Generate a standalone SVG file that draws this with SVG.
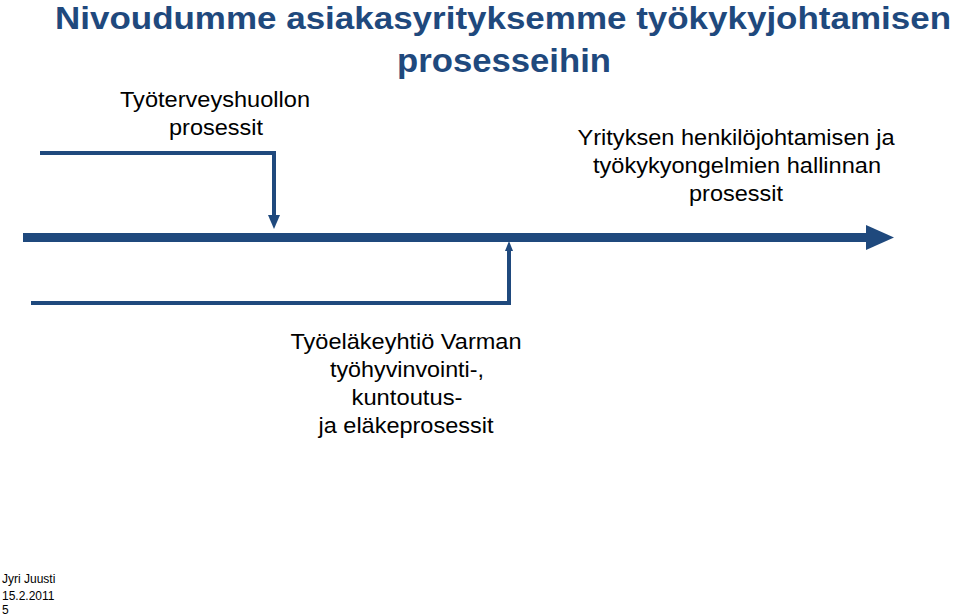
<svg xmlns="http://www.w3.org/2000/svg" width="959" height="616" viewBox="0 0 959 616">
<style>
.title{font-family:"Liberation Sans",Arial,sans-serif;font-weight:bold;font-size:33px;fill:#1F497D;text-anchor:middle}
.lbl{font-family:"Liberation Sans",Arial,sans-serif;font-size:22px;fill:#000;text-anchor:middle}
.foot{font-family:"Liberation Sans",Arial,sans-serif;font-size:12px;fill:#000}
.ln{stroke:#1F497D;fill:none}
.ah{fill:#1F497D}
</style>
<rect width="959" height="616" fill="#fff"/>
<g id="title">
<text class="title" x="503" y="29" textLength="896" lengthAdjust="spacingAndGlyphs" style="font-size:32px">Nivoudumme asiakasyrityksemme työkykyjohtamisen</text>
<text class="title" x="504" y="72" textLength="214" lengthAdjust="spacingAndGlyphs">prosesseihin</text>
</g>
<g id="connectors">
<line class="ln" x1="23" y1="237.5" x2="870" y2="237.5" stroke-width="9"/>
<polygon class="ah" points="866,225 894,237.5 866,250"/>
<polyline class="ln" points="40,153 274,153 274,217" stroke-width="4"/>
<polygon class="ah" points="268,215 280,215 274,229"/>
<polyline class="ln" points="31,303 509,303 509,250" stroke-width="4"/>
<polygon class="ah" points="505,251 513,251 509,241"/>
</g>
<g id="node-tyoterveys">
<text class="lbl" x="215" y="107" textLength="190" lengthAdjust="spacingAndGlyphs">Työterveyshuollon</text>
<text class="lbl" x="216" y="135" textLength="94" lengthAdjust="spacingAndGlyphs">prosessit</text>
</g>
<g id="node-yritys">
<text class="lbl" x="736" y="145" textLength="317" lengthAdjust="spacingAndGlyphs">Yrityksen henkilöjohtamisen ja</text>
<text class="lbl" x="737" y="173" textLength="288" lengthAdjust="spacingAndGlyphs">työkykyongelmien hallinnan</text>
<text class="lbl" x="736" y="201" textLength="94" lengthAdjust="spacingAndGlyphs">prosessit</text>
</g>
<g id="node-varma">
<text class="lbl" x="406" y="349" textLength="231" lengthAdjust="spacingAndGlyphs">Työeläkeyhtiö Varman</text>
<text class="lbl" x="407" y="377" textLength="154" lengthAdjust="spacingAndGlyphs">työhyvinvointi-,</text>
<text class="lbl" x="407" y="405" textLength="111" lengthAdjust="spacingAndGlyphs">kuntoutus-</text>
<text class="lbl" x="406" y="433" textLength="175" lengthAdjust="spacingAndGlyphs">ja eläkeprosessit</text>
</g>
<g id="footer">
<text class="foot" x="2" y="583">Jyri Juusti</text>
<text class="foot" x="2" y="600">15.2.2011</text>
<text class="foot" x="2" y="614">5</text>
</g>
</svg>
